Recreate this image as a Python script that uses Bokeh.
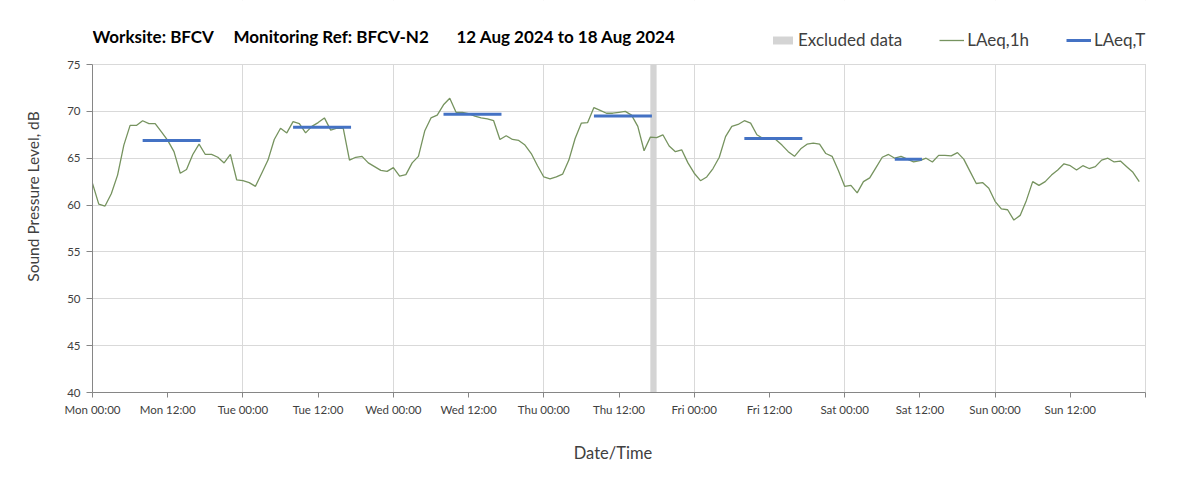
import pandas as pd
from bokeh.plotting import figure
from bokeh.models import (ColumnDataSource, Range1d, FixedTicker, DatetimeTickFormatter,
                          Legend, LegendItem, Label, BoxAnnotation)
from bokeh.embed import file_html
from bokeh.resources import INLINE

# ---------------- data ----------------
start_time = "2024-08-12 00:00"
end_time = "2024-08-19 00:00"

laeq_1h = [
    62.3, 60.1, 59.9, 61.2, 63.2, 66.4, 68.5, 68.5, 69.0, 68.7, 68.7, 67.8,
    66.9, 65.7, 63.4, 63.8, 65.4, 66.5, 65.4, 65.4, 65.1, 64.5, 65.4, 62.7,
    62.6, 62.4, 62.0, 63.4, 64.8, 67.0, 68.2, 67.7, 68.9, 68.7, 67.7, 68.4,
    68.8, 69.3, 68.0, 68.2, 68.2, 64.8, 65.1, 65.2, 64.5, 64.1, 63.7, 63.6,
    64.0, 63.1, 63.25, 64.5, 65.2, 67.9, 69.3, 69.6, 70.7, 71.4, 69.9, 69.9,
    69.75, 69.5, 69.3, 69.2, 69.0, 67.0, 67.4, 67.0, 66.9, 66.4, 65.5, 64.2,
    63.0, 62.8, 63.0, 63.3, 64.8, 67.1, 68.75, 68.8, 70.4, 70.1, 69.8, 69.8,
    69.9, 70.0, 69.6, 68.4, 65.8, 67.25, 67.2, 67.5, 66.3, 65.7, 65.9, 64.5,
    63.4, 62.6, 63.0, 63.9, 65.1, 67.3, 68.4, 68.6, 69.0, 68.75, 67.5, 67.1,
    67.1, 67.0, 66.4, 65.7, 65.2, 66.0, 66.5, 66.6, 66.5, 65.5, 65.2, 63.7,
    62.0, 62.1, 61.3, 62.5, 62.9, 64.0, 65.1, 65.4, 65.0, 65.2, 64.9, 64.6,
    64.75, 65.0, 64.6, 65.3, 65.3, 65.25, 65.6, 64.9, 63.6, 62.3, 62.4, 61.8,
    60.4, 59.6, 59.5, 58.4, 58.9, 60.5, 62.5, 62.1, 62.5, 63.2, 63.75, 64.4,
    64.2, 63.75, 64.2, 63.9, 64.1, 64.8, 65.0, 64.6, 64.7, 64.1, 63.5, 62.5,
]

laeq_t_start = ["2024-08-12 08:00", "2024-08-13 08:00", "2024-08-14 08:00",
                "2024-08-15 08:00", "2024-08-16 08:00", "2024-08-17 08:00"]
laeq_t_end = ["2024-08-12 17:15", "2024-08-13 17:15", "2024-08-14 17:15",
              "2024-08-15 17:15", "2024-08-16 17:15", "2024-08-17 12:20"]
laeq_t_value = [66.9, 68.3, 69.7, 69.5, 67.1, 64.9]

excluded_start = ["2024-08-15 17:00"]
excluded_end = ["2024-08-15 18:00"]

y_min, y_max = 40, 75
y_ticks = [40, 45, 50, 55, 60, 65, 70, 75]
title_parts = ["Worksite: BFCV", "Monitoring Ref: BFCV-N2", "12 Aug 2024 to 18 Aug 2024"]
legend_labels = ["Excluded data", "LAeq,1h", "LAeq,T"]
x_label = "Date/Time"
y_label = "Sound Pressure Level, dB"

# ---------------- layout constants (pixels) ----------------
FIG_W, FIG_H = 1187, 468
LEFT, BOTTOM = 92, 76
AXIS_TOP_PX = 64          # where 75 dB sits, from the top of the figure
AXIS_RIGHT_PX = 1145      # where the time axis ends, from the left of the figure
frame_h = FIG_H - BOTTOM
frame_w = FIG_W - LEFT
y_top = y_min + (y_max - y_min) * frame_h / (frame_h - AXIS_TOP_PX)

# ---------------- build ----------------
t0 = pd.Timestamp(start_time)
t1 = pd.Timestamp(end_time)
times = pd.date_range(t0, periods=len(laeq_1h), freq="h")


def ms(t):
    return pd.Timestamp(t).value / 1e6


x_end = ms(t0) + (ms(t1) - ms(t0)) * frame_w / (AXIS_RIGHT_PX - LEFT)

p = figure(width=FIG_W, height=FIG_H, x_axis_type="datetime",
           output_backend="svg", toolbar_location=None,
           x_range=Range1d(ms(t0), x_end), y_range=Range1d(y_min, y_top),
           min_border_left=LEFT, min_border_right=0,
           min_border_top=0, min_border_bottom=BOTTOM)
p.outline_line_color = None
p.background_fill_color = "white"
p.border_fill_color = "white"

excl_src = ColumnDataSource(dict(left=pd.to_datetime(excluded_start),
                                 right=pd.to_datetime(excluded_end),
                                 bottom=[y_min] * len(excluded_start),
                                 top=[y_max] * len(excluded_start)))
r_excl = p.quad(left="left", right="right", bottom="bottom", top="top",
                source=excl_src, fill_color="#d4d4d4", line_color=None)

r_line = p.line(times, laeq_1h, line_color="#76935f", line_width=1.3)

seg_src = ColumnDataSource(dict(x0=pd.to_datetime(laeq_t_start),
                                x1=pd.to_datetime(laeq_t_end),
                                y=laeq_t_value))
r_seg = p.segment(x0="x0", y0="y", x1="x1", y1="y", source=seg_src,
                  line_color="#4472c4", line_width=3)

# axes
day_ms = 86400000
half_ticks = [ms(t0) + i * day_ms / 2 for i in range(14)]
day_ticks = [ms(t0) + i * day_ms for i in range(8)]

p.xaxis.ticker = FixedTicker(ticks=half_ticks, minor_ticks=[ms(t1)])
p.xaxis.bounds = (ms(t0), ms(t1))
fmt = "%a %H:%M"
p.xaxis.formatter = DatetimeTickFormatter(milliseconds=fmt, seconds=fmt, minsec=fmt,
                                          minutes=fmt, hourmin=fmt, hours=fmt,
                                          days=fmt, months=fmt, years=fmt)
p.yaxis.ticker = FixedTicker(ticks=y_ticks)
p.yaxis.bounds = (y_min, y_max)

for ax in (p.xaxis[0], p.yaxis[0]):
    ax.axis_line_color = "#868686"
    ax.major_tick_line_color = "#868686"
    ax.minor_tick_line_color = "#868686"
    ax.major_tick_in = 0
    ax.minor_tick_in = 0
    ax.major_label_text_font = "Lato"
    ax.major_label_text_font_size = "11.5px"
    ax.major_label_text_color = "#404040"
    ax.axis_label_text_font = "Lato"
    ax.axis_label_text_font_style = "normal"
    ax.axis_label_text_color = "#404040"

p.xaxis.major_tick_out = 5
p.xaxis.minor_tick_out = 5
p.xaxis.major_label_standoff = 5
# the frame runs past the end of the time axis (room for the legend), so pad the
# label on its right with non-collapsing blanks to centre it under the 7 days
p.xaxis.axis_label = x_label + "\u2003" * 3 + "\u00a0" * 4
p.xaxis.axis_label_text_font_size = "16.5px"
p.xaxis.axis_label_standoff = 24

p.yaxis.major_tick_out = 6
p.yaxis.minor_tick_line_color = None
p.yaxis.major_label_standoff = 6
p.yaxis.axis_label = y_label
p.yaxis.axis_label_text_font_size = "15.5px"
p.yaxis.axis_label_standoff = 22

p.ygrid.grid_line_color = "#d9d9d9"
p.xgrid.ticker = FixedTicker(ticks=day_ticks)
p.xgrid.grid_line_color = "#d9d9d9"

# blank bands above 75 dB and right of the last day (hide the grid there)
p.add_layout(BoxAnnotation(bottom=y_max + 0.06, fill_color="white", fill_alpha=1.0,
                           line_color=None, level="underlay"))
p.add_layout(BoxAnnotation(left=ms(t1) + 300000, fill_color="white", fill_alpha=1.0,
                           line_color=None, level="underlay"))

# heading
offsets = [0, 141, 364]
for txt, off in zip(title_parts, offsets):
    p.add_layout(Label(x=ms(t0), y=y_max, x_offset=off, y_offset=28, text=txt,
                       text_font="Lato", text_font_style="bold",
                       text_font_size="17px", text_color="#000000",
                       text_baseline="middle", text_align="left"))

legend = Legend(items=[LegendItem(label=legend_labels[0], renderers=[r_excl]),
                       LegendItem(label=legend_labels[1], renderers=[r_line]),
                       LegendItem(label=legend_labels[2], renderers=[r_seg])],
                orientation="horizontal", location=(678, frame_h - 50))
legend.label_text_font = "Lato"
legend.label_text_font_size = "17px"
legend.label_text_color = "#404040"
legend.glyph_width = 25
legend.glyph_height = 10
legend.label_standoff = 3
legend.spacing = 37
legend.padding = 0
legend.margin = 0
legend.border_line_alpha = 0
legend.background_fill_alpha = 0
p.add_layout(legend)

open("out.html", "w").write(file_html(p, INLINE))
